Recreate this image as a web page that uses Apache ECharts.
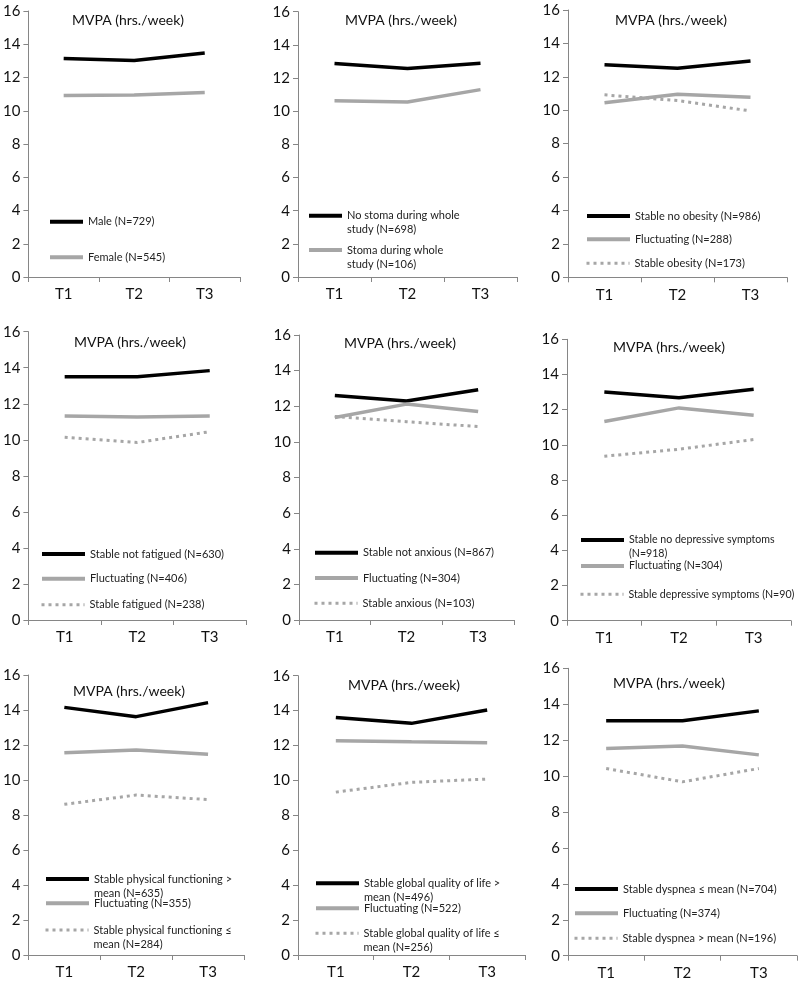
<!DOCTYPE html>
<html>
<head>
<meta charset="utf-8">
<script src="https://cdn.jsdelivr.net/npm/echarts@6/dist/echarts.min.js"></script>
<style>
  html, body { margin: 0; padding: 0; background: #fff; }
  #chart { width: 798px; height: 982px; }
</style>
</head>
<body>
<div id="chart"></div>
<script>
// time points on x axis
var timePoints = ['T1', 'T2', 'T3'];
var yMin = 0, yMax = 16, yStep = 2;
var panelTitle = 'MVPA (hrs./week)';

// panel 1 - sex
var sexNames = ['Male (N=729)', 'Female (N=545)'];
var sexMale = [13.15, 13.02, 13.47];
var sexFemale = [10.92, 10.95, 11.1];

// panel 2 - stoma
var stomaNames = ['No stoma during whole\nstudy (N=698)', 'Stoma during whole\nstudy (N=106)'];
var stomaNo = [12.87, 12.58, 12.89];
var stomaYes = [10.63, 10.56, 11.3];

// panel 3 - obesity
var obesityNames = ['Stable no obesity (N=986)', 'Fluctuating (N=288)', 'Stable obesity (N=173)'];
var obesityNo = [12.72, 12.52, 12.95];
var obesityFluct = [10.45, 10.96, 10.78];
var obesityYes = [10.92, 10.58, 9.96];

// panel 4 - fatigue
var fatigueNames = ['Stable not fatigued (N=630)', 'Fluctuating (N=406)', 'Stable fatigued (N=238)'];
var fatigueNo = [13.5, 13.5, 13.84];
var fatigueFluct = [11.32, 11.26, 11.32];
var fatigueYes = [10.14, 9.85, 10.45];

// panel 5 - anxiety
var anxietyNames = ['Stable not anxious (N=867)', 'Fluctuating (N=304)', 'Stable anxious (N=103)'];
var anxietyNo = [12.6, 12.3, 12.93];
var anxietyFluct = [11.37, 12.12, 11.7];
var anxietyYes = [11.42, 11.13, 10.86];

// panel 6 - depression
var depressionNames = ['Stable no depressive symptoms\n(N=918)', 'Fluctuating (N=304)', 'Stable depressive symptoms (N=90)'];
var depressionNo = [13.0, 12.68, 13.16];
var depressionFluct = [11.33, 12.1, 11.68];
var depressionYes = [9.35, 9.75, 10.3];

// panel 7 - physical functioning
var physNames = ['Stable physical functioning >\nmean (N=635)', 'Fluctuating (N=355)', 'Stable physical functioning \u2264\nmean (N=284)'];
var physHigh = [14.15, 13.62, 14.42];
var physFluct = [11.56, 11.71, 11.47];
var physLow = [8.61, 9.14, 8.88];

// panel 8 - global quality of life
var qolNames = ['Stable global quality of life >\nmean (N=496)', 'Fluctuating (N=522)', 'Stable global quality of life \u2264\nmean (N=256)'];
var qolHigh = [13.61, 13.27, 14.03];
var qolFluct = [12.28, 12.21, 12.16];
var qolLow = [9.33, 9.89, 10.08];

// panel 9 - dyspnea
var dyspneaNames = ['Stable dyspnea \u2264 mean (N=704)', 'Fluctuating (N=374)', 'Stable dyspnea > mean (N=196)'];
var dyspneaLow = [13.08, 13.08, 13.63];
var dyspneaFluct = [11.54, 11.67, 11.18];
var dyspneaHigh = [10.42, 9.68, 10.42];

var panels = [
  { names: sexNames, values: [sexMale, sexFemale] },
  { names: stomaNames, values: [stomaNo, stomaYes] },
  { names: obesityNames, values: [obesityNo, obesityFluct, obesityYes] },
  { names: fatigueNames, values: [fatigueNo, fatigueFluct, fatigueYes] },
  { names: anxietyNames, values: [anxietyNo, anxietyFluct, anxietyYes] },
  { names: depressionNames, values: [depressionNo, depressionFluct, depressionYes] },
  { names: physNames, values: [physHigh, physFluct, physLow] },
  { names: qolNames, values: [qolHigh, qolFluct, qolLow] },
  { names: dyspneaNames, values: [dyspneaLow, dyspneaFluct, dyspneaHigh] }
];

// layout: plot box [left, top(16), right, bottom(0)]
var gridBoxes = [
  [27, 11, 240, 277], [298, 11.7, 517, 277], [568, 10, 787, 277.3],
  [27, 331.7, 246, 620], [299, 335, 514, 620], [567, 339.3, 791, 620.7],
  [26, 675, 244, 955], [298, 675.7, 525, 955], [568, 668.3, 797, 955.7]
];
var titleCenters = [
  [128, 20], [401, 20], [671, 20],
  [130, 342], [400, 343], [669, 347],
  [129, 691], [404, 685], [669, 683]
];
var legendBoxes = [
  { x: 48, w: 33, ys: [221.7, 257.3], fs: 11 },
  { x: 307, w: 33, ys: [215.7, 250], fs: 11 },
  { x: 585, w: 43, ys: [216, 239.3, 263.3], fs: 11 },
  { x: 40, w: 43, ys: [554, 578.7, 604.7], fs: 11 },
  { x: 313, w: 43, ys: [552.7, 578, 603.3], fs: 11 },
  { x: 579, w: 43, ys: [540, 566, 594.3], fs: 10.6 },
  { x: 44, w: 43, ys: [879, 903.3, 930], fs: 11 },
  { x: 314, w: 43, ys: [883.3, 908.3, 933.3], fs: 11 },
  { x: 573, w: 43, ys: [889, 913.3, 938.3], fs: 11 }
];

var lineStyles = [
  { color: '#000000', width: 3.5, type: 'solid' },
  { color: '#a6a6a6', width: 3.5, type: 'solid' },
  { color: '#a6a6a6', width: 3, type: [3, 4] }
];
var legendLineWidths = [4, 4, 3];

var FONT = 'Lato, "Open Sans", sans-serif';
var LINE_H = 14;

// put a blank line first so the swatch sits level with the first text line
function legendText(name) {
  return name.indexOf('\n') >= 0 ? ' \n' + name : name;
}

var grid = [], xAxis = [], yAxis = [], series = [], title = [], legend = [];

panels.forEach(function (p, i) {
  var b = gridBoxes[i];
  grid.push({ left: b[0], top: b[1], width: b[2] - b[0], height: b[3] - b[1] });
  xAxis.push({
    type: 'category', gridIndex: i, data: timePoints, boundaryGap: true,
    axisLine: { lineStyle: { color: '#868686', width: 1 } },
    axisTick: { show: true, length: 5, lineStyle: { color: '#868686' } },
    axisLabel: { fontSize: 15, color: '#111', fontFamily: FONT, margin: 10 },
    splitLine: { show: false }
  });
  yAxis.push({
    type: 'value', gridIndex: i, min: yMin, max: yMax, interval: yStep,
    axisLine: { show: true, lineStyle: { color: '#868686', width: 1 } },
    axisTick: { show: true, length: 5, lineStyle: { color: '#868686' } },
    axisLabel: { fontSize: 15, color: '#111', fontFamily: FONT, margin: 8 },
    splitLine: { show: false }
  });
  var tc = titleCenters[i];
  title.push({
    text: panelTitle, left: tc[0], top: tc[1] - 8, textAlign: 'center', padding: 0,
    textStyle: { fontSize: 14, fontWeight: 'normal', color: '#111', fontFamily: FONT, lineHeight: 16 }
  });
  var lb = legendBoxes[i];
  p.names.forEach(function (name, k) {
    series.push({
      name: name, type: 'line', xAxisIndex: i, yAxisIndex: i,
      data: p.values[k], symbol: 'none', smooth: false, animation: false,
      lineStyle: lineStyles[k], itemStyle: { color: lineStyles[k].color }
    });
    var lines = name.split('\n').length;
    var boxH = lines > 1 ? (lines + 1) * LINE_H : LINE_H;
    legend.push({
      data: [name], left: lb.x, top: lb.ys[k] - boxH / 2, padding: 0,
      itemWidth: lb.w, itemHeight: LINE_H, selectedMode: false,
      formatter: legendText,
      itemStyle: { color: 'rgba(0,0,0,0)', opacity: 0, borderWidth: 0 },
      lineStyle: { width: legendLineWidths[k] },
      textStyle: { fontSize: lb.fs, lineHeight: LINE_H, color: '#222', fontFamily: FONT }
    });
  });
});

var chart = echarts.init(document.getElementById('chart'), null, { renderer: 'canvas' });
chart.setOption({
  backgroundColor: '#ffffff',
  animation: false,
  title: title,
  legend: legend,
  grid: grid,
  xAxis: xAxis,
  yAxis: yAxis,
  series: series
});
</script>
</body>
</html>
